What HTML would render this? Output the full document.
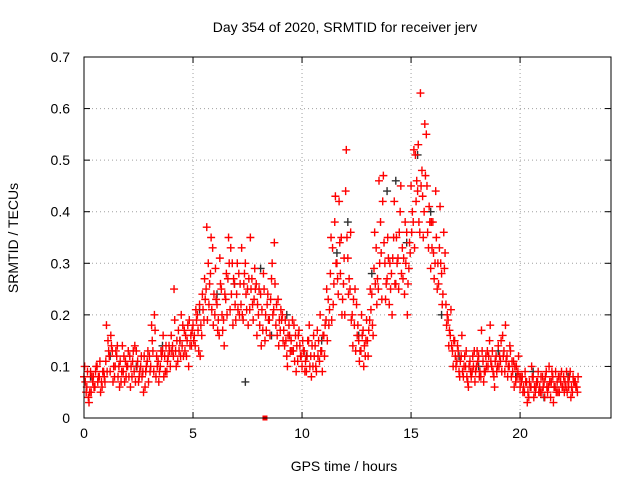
<!DOCTYPE html>
<html><head><meta charset="utf-8"><style>
html,body{margin:0;padding:0;background:#fff;}
svg{display:block;font-family:"Liberation Sans",sans-serif;}
</style></head><body>
<svg id="chart" width="640" height="480" viewBox="0 0 640 480">
<rect x="0" y="0" width="640" height="480" fill="#fff"/>
<text x="345" y="32" font-size="14" text-anchor="middle">Day 354 of 2020, SRMTID for receiver jerv</text>
<text x="344" y="471" font-size="14" text-anchor="middle">GPS time / hours</text>
<text x="18" y="238" font-size="14" text-anchor="middle" transform="rotate(-90 18 238)">SRMTID / TECUs</text>
<g id="grid"></g>
<g id="ticks"></g>
<g id="marks"></g>
<rect x="84" y="57" width="527" height="361" fill="none" stroke="#000" stroke-width="1"/>
</svg>
<script>
const xTicks=[0,5,10,15,20];
const yTicks=[0,0.1,0.2,0.3,0.4,0.5,0.6,0.7];
const yTickLabels=["0","0.1","0.2","0.3","0.4","0.5","0.6","0.7"];
const startHour=0, stepHour=0.1;
const redA=[0.08,0.05,0.04,0.09,0.07,0.06,0.10,0.08,0.07,0.09,
0.11,0.15,0.09,0.13,0.08,0.12,0.10,0.07,0.09,0.11,
0.10,0.12,0.08,0.09,0.13,0.07,0.10,0.09,0.06,0.11,
0.12,0.18,0.09,0.08,0.11,0.10,0.13,0.12,0.09,0.14,
0.16,0.12,0.13,0.11,0.15,0.14,0.17,0.12,0.10,0.16,
0.18,0.14,0.20,0.22,0.16,0.19,0.25,0.30,0.28,0.33,
0.20,0.22,0.16,0.25,0.19,0.23,0.27,0.21,0.30,0.26,
0.24,0.28,0.22,0.19,0.30,0.25,0.21,0.27,0.23,0.26,
0.20,0.24,0.17,0.15,0.22,0.19,0.27,0.21,0.18,0.23,
0.17,0.20,0.14,0.12,0.18,0.15,0.13,0.16,0.11,0.14,
0.10,0.13,0.09,0.15,0.12,0.10,0.14,0.17,0.11,0.13,
0.16,0.19,0.23,0.28,0.33,0.38,0.30,0.42,0.35,0.26,
0.44,0.31,0.25,0.20,0.18,0.22,0.15,0.13,0.17,0.12,
0.15,0.19,0.24,0.29,0.33,0.25,0.38,0.42,0.30,0.27,
0.22,0.28,0.35,0.26,0.31,0.40,0.33,0.24,0.36,0.29,
0.45,0.38,0.51,0.44,0.36,0.48,0.40,0.55,0.33,0.29,
0.38,0.30,0.25,0.33,0.28,0.36,0.22,0.19,0.16,0.13,
0.15,0.11,0.09,0.12,0.08,0.10,0.07,0.11,0.09,0.13,
0.10,0.12,0.08,0.11,0.09,0.13,0.15,0.10,0.08,0.12,
0.14,0.11,0.16,0.09,0.12,0.10,0.08,0.11,0.07,0.09,
0.06,0.08,0.05,0.07,0.04,0.06,0.08,0.05,0.07,0.06,
0.05,0.07,0.09,0.06,0.04,0.08,0.06,0.07,0.05,0.09,
0.08,0.06,0.07,0.09,0.05,0.07,0.06];
const redB=[0.10,0.06,0.03,0.05,0.08,0.09,0.07,0.11,0.06,0.08,
0.18,0.13,0.16,0.07,0.10,0.14,0.06,0.09,0.12,0.08,
0.13,0.06,0.11,0.14,0.10,0.08,0.12,0.05,0.09,0.13,
0.09,0.15,0.20,0.12,0.07,0.13,0.16,0.09,0.11,0.13,
0.13,0.25,0.10,0.17,0.12,0.18,0.13,0.15,0.19,0.14,
0.15,0.21,0.17,0.12,0.24,0.27,0.37,0.22,0.35,0.18,
0.29,0.17,0.31,0.20,0.14,0.28,0.35,0.33,0.18,0.22,
0.30,0.20,0.33,0.26,0.24,0.18,0.35,0.22,0.29,0.16,
0.25,0.14,0.28,0.20,0.24,0.16,0.30,0.34,0.22,0.14,
0.21,0.15,0.19,0.10,0.16,0.13,0.18,0.09,0.16,0.12,
0.15,0.09,0.12,0.18,0.08,0.16,0.10,0.12,0.20,0.09,
0.12,0.25,0.18,0.35,0.22,0.43,0.27,0.34,0.20,0.31,
0.52,0.24,0.36,0.14,0.25,0.16,0.11,0.20,0.10,0.15,
0.12,0.25,0.18,0.36,0.22,0.46,0.32,0.47,0.23,0.35,
0.30,0.20,0.42,0.35,0.25,0.45,0.27,0.38,0.20,0.34,
0.36,0.52,0.42,0.53,0.63,0.43,0.57,0.45,0.41,0.38,
0.32,0.44,0.30,0.41,0.22,0.29,0.18,0.14,0.21,0.10,
0.12,0.14,0.08,0.16,0.10,0.13,0.06,0.09,0.12,0.07,
0.13,0.08,0.17,0.07,0.12,0.10,0.18,0.13,0.06,0.09,
0.10,0.15,0.12,0.18,0.08,0.14,0.11,0.06,0.10,0.12,
0.08,0.05,0.09,0.03,0.07,0.10,0.04,0.06,0.09,0.05,
0.08,0.04,0.06,0.10,0.07,0.03,0.09,0.05,0.08,0.06,
0.05,0.09,0.06,0.04,0.08,0.07,0.05];
const redC=[0.07,0.09,0.05,0.08,0.06,0.10,0.08,0.05,0.09,0.07,
0.09,0.12,0.14,0.10,0.13,0.08,0.11,0.14,0.07,0.10,
0.08,0.10,0.13,0.07,0.11,0.09,0.08,0.12,0.10,0.07,
0.10,0.13,0.17,0.10,0.09,0.12,0.08,0.14,0.12,0.10,
0.14,0.19,0.15,0.13,0.20,0.12,0.16,0.18,0.14,0.17,
0.16,0.19,0.13,0.18,0.21,0.23,0.19,0.26,0.21,0.24,
0.23,0.19,0.26,0.17,0.24,0.20,0.30,0.24,0.27,0.19,
0.21,0.26,0.20,0.28,0.21,0.27,0.25,0.19,0.25,0.22,
0.18,0.21,0.25,0.17,0.19,0.23,0.20,0.26,0.16,0.19,
0.19,0.17,0.15,0.16,0.13,0.19,0.11,0.14,0.17,0.12,
0.13,0.11,0.15,0.10,0.14,0.12,0.09,0.15,0.13,0.16,
0.18,0.15,0.21,0.19,0.26,0.30,0.24,0.28,0.23,0.20,
0.35,0.27,0.19,0.23,0.13,0.18,0.13,0.16,0.14,0.19,
0.17,0.21,0.16,0.26,0.27,0.30,0.23,0.34,0.26,0.31,
0.25,0.31,0.26,0.30,0.36,0.28,0.31,0.30,0.26,0.32,
0.40,0.33,0.46,0.38,0.45,0.35,0.47,0.36,0.38,0.33,
0.27,0.35,0.26,0.30,0.24,0.32,0.20,0.17,0.14,0.15,
0.10,0.13,0.11,0.09,0.12,0.08,0.10,0.08,0.10,0.09,
0.11,0.09,0.13,0.09,0.10,0.12,0.11,0.09,0.11,0.10,
0.12,0.09,0.13,0.11,0.10,0.13,0.09,0.10,0.08,0.08,
0.07,0.06,0.07,0.05,0.06,0.08,0.06,0.07,0.05,0.08,
0.06,0.08,0.05,0.07,0.09,0.06,0.05,0.08,0.07,0.06,
0.07,0.05,0.08,0.06,0.07,0.06,0.08];
const blackHours=[0.3,1.2,2.4,3.6,4.4,5.3,6.1,6.9,7.4,8.1,8.6,9.3,10.2,10.9,11.6,12.1,12.6,13.2,13.9,14.3,14.8,15.3,15.9,16.4,17.2,18.1,19.0,19.8,20.6,21.1,21.6,22.2];
const blackValues=[0.08,0.12,0.10,0.14,0.15,0.21,0.24,0.26,0.07,0.29,0.16,0.20,0.12,0.15,0.32,0.38,0.16,0.28,0.44,0.46,0.34,0.51,0.40,0.20,0.12,0.10,0.13,0.08,0.09,0.04,0.06,0.08];
const outlierHours=[8.3];
const outlierValues=[0.0];

const X0=84,X1=611,Y0=418,Y1=57,XMAX=24.17,YMAX=0.7;
function xs(h){return X0+(h/XMAX)*(X1-X0);}
function ys(v){return Y0-(v/YMAX)*(Y0-Y1);}
const NS="http://www.w3.org/2000/svg";
function mk(tag,attrs,parent){const e=document.createElementNS(NS,tag);for(const k in attrs)e.setAttribute(k,attrs[k]);parent.appendChild(e);return e;}
const grid=document.getElementById('grid'),ticks=document.getElementById('ticks'),marks=document.getElementById('marks');
xTicks.forEach((t,i)=>{const x=xs(t);
 if(i>0){const g=mk('line',{x1:x,y1:Y0,x2:x,y2:Y1,stroke:'#a0a0a0','stroke-dasharray':'1,3'},grid);
 
 }
 const a=mk('line',{x1:x,y1:Y0,x2:x,y2:Y0-6,stroke:'#000'},ticks);
 
 
 const b=mk('line',{x1:x,y1:Y1,x2:x,y2:Y1+6,stroke:'#000'},ticks);
 
 
 const l=mk('text',{x:x,y:Y0+20,'font-size':'14','text-anchor':'middle'},ticks);l.textContent=String(t);
 
 });
yTicks.forEach((t,i)=>{const y=ys(t);
 if(i>0&&i<yTicks.length-1){const g=mk('line',{x1:X0,y1:y,x2:X1,y2:y,stroke:'#a0a0a0','stroke-dasharray':'1,3'},grid);
 
 }
 const a=mk('line',{x1:X0,y1:y,x2:X0+6,y2:y,stroke:'#000'},ticks);
 
 
 const b=mk('line',{x1:X1,y1:y,x2:X1-6,y2:y,stroke:'#000'},ticks);
 
 
 const l=mk('text',{x:X0-14,y:y+5,'font-size':'14','text-anchor':'end'},ticks);l.textContent=yTickLabels[i];
 
 });
function plus(h,v,color,name){const x=xs(h),y=ys(v);
 const p=mk('path',{d:`M${x-4},${y}H${x+4}M${x},${y-4}V${y+4}`,stroke:color,'stroke-width':'1.4',fill:'none'},marks);
 
 }
blackValues.forEach((v,i)=>plus(blackHours[i],v,'#303030','black-point'));
redA.forEach((v,i)=>plus(startHour+i*stepHour,v,'#ff0000','red-point'));
redB.forEach((v,i)=>plus(startHour+i*stepHour+0.03,v,'#ff0000','red-point'));
redC.forEach((v,i)=>plus(startHour+i*stepHour+0.06,v,'#ff0000','red-point'));
outlierValues.forEach((v,i)=>{const x=xs(outlierHours[i]),y=ys(v);
 const r=mk('rect',{x:x-2.5,y:y-2.5,width:5,height:5,fill:'#ff0000'},marks);
 
 });
</script>
</body></html>
